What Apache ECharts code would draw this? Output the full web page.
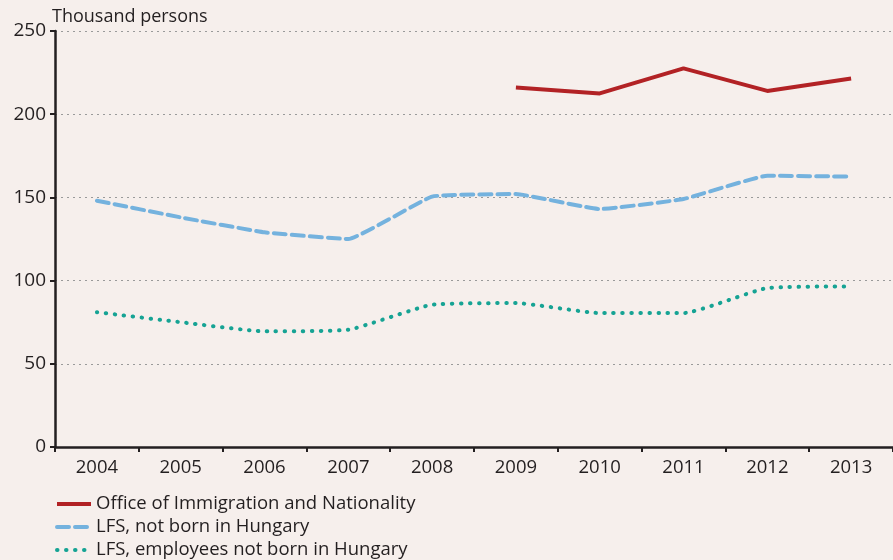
<!DOCTYPE html>
<html>
<head>
<meta charset="utf-8">
<script src="https://cdn.jsdelivr.net/npm/echarts@6/dist/echarts.min.js"></script>
<style>
  html, body { margin: 0; padding: 0; background: #f6efec; }
  #chart { width: 893px; height: 560px; }
</style>
</head>
<body>
<div id="chart"></div>
<script>
// categories and values (thousand persons)
const years = ['2004', '2005', '2006', '2007', '2008', '2009', '2010', '2011', '2012', '2013']
const officeImmigration = [null, null, null, null, null, 216, 212.5, 227.5, 214, 221.5]
const lfsNotBorn = [148, 138, 129, 125, 150.5, 152, 143, 149, 163, 162.5]
const lfsEmployees = [81, 75, 69.5, 70.5, 85.5, 86.5, 80.5, 80.5, 95.5, 96.5]
const yTicks = { min: 0, max: 250, interval: 50 }

const FONT = '"Open Sans", "Noto Sans", sans-serif'
const AXIS_COLOR = '#231f20'

const chart = echarts.init(document.getElementById('chart'))

chart.setOption({
  backgroundColor: '#f6efec',
  animation: false,
  textStyle: { fontFamily: FONT },
  grid: { left: 55, top: 31, width: 850, height: 416, containLabel: false },
  legend: {
    orient: 'vertical',
    left: 50,
    top: 489,
    height: 75,
    itemWidth: 34,
    itemHeight: 12,
    itemGap: 3,
    // hide the default circle marker, keep only the line sample
    itemStyle: { opacity: 0, borderWidth: 0 },
    lineStyle: { width: 4 },
    textStyle: { fontFamily: FONT, fontSize: 18.5, lineHeight: 20, color: '#231f20' },
    data: [
      'Office of Immigration and Nationality',
      'LFS, not born in Hungary',
      'LFS, employees not born in Hungary',
    ],
  },
  xAxis: {
    type: 'category',
    data: years,
    boundaryGap: true,
    axisLine: { lineStyle: { color: AXIS_COLOR, width: 2.5 } },
    axisTick: { show: true, length: 5, lineStyle: { color: AXIS_COLOR, width: 2 } },
    axisLabel: { fontFamily: FONT, fontSize: 18.5, color: '#231f20', margin: 11 },
    splitLine: { show: false },
  },
  yAxis: {
    type: 'value',
    min: yTicks.min,
    max: yTicks.max,
    interval: yTicks.interval,
    name: 'Thousand persons',
    nameLocation: 'end',
    nameGap: 5,
    nameTextStyle: { fontFamily: FONT, fontSize: 18, color: '#231f20', align: 'left', padding: [0, 0, 0, -3] },
    axisLine: { show: true, lineStyle: { color: AXIS_COLOR, width: 2.5 } },
    axisTick: { show: true, length: 5, lineStyle: { color: AXIS_COLOR, width: 2 } },
    axisLabel: { fontFamily: FONT, fontSize: 19, color: '#231f20', margin: 9 },
    splitLine: { show: true, lineStyle: { color: '#9a9a9a', type: [2, 4], width: 1.2 } },
  },
  series: [
    {
      name: 'Office of Immigration and Nationality',
      type: 'line',
      data: officeImmigration,
      symbol: 'none',
      lineStyle: { color: '#b22225', width: 4 },
      itemStyle: { color: '#b22225' },
    },
    {
      name: 'LFS, not born in Hungary',
      type: 'line',
      data: lfsNotBorn,
      symbol: 'none',
      smooth: 0.1,
      lineStyle: { color: '#74b2de', width: 4, type: [12, 6], cap: 'round' },
      itemStyle: { color: '#74b2de' },
    },
    {
      name: 'LFS, employees not born in Hungary',
      type: 'line',
      data: lfsEmployees,
      symbol: 'none',
      smooth: 0.15,
      lineStyle: { color: '#16a394', width: 4, type: [0.5, 8.5], cap: 'round' },
      itemStyle: { color: '#16a394' },
    },
  ],
})
</script>
</body>
</html>
